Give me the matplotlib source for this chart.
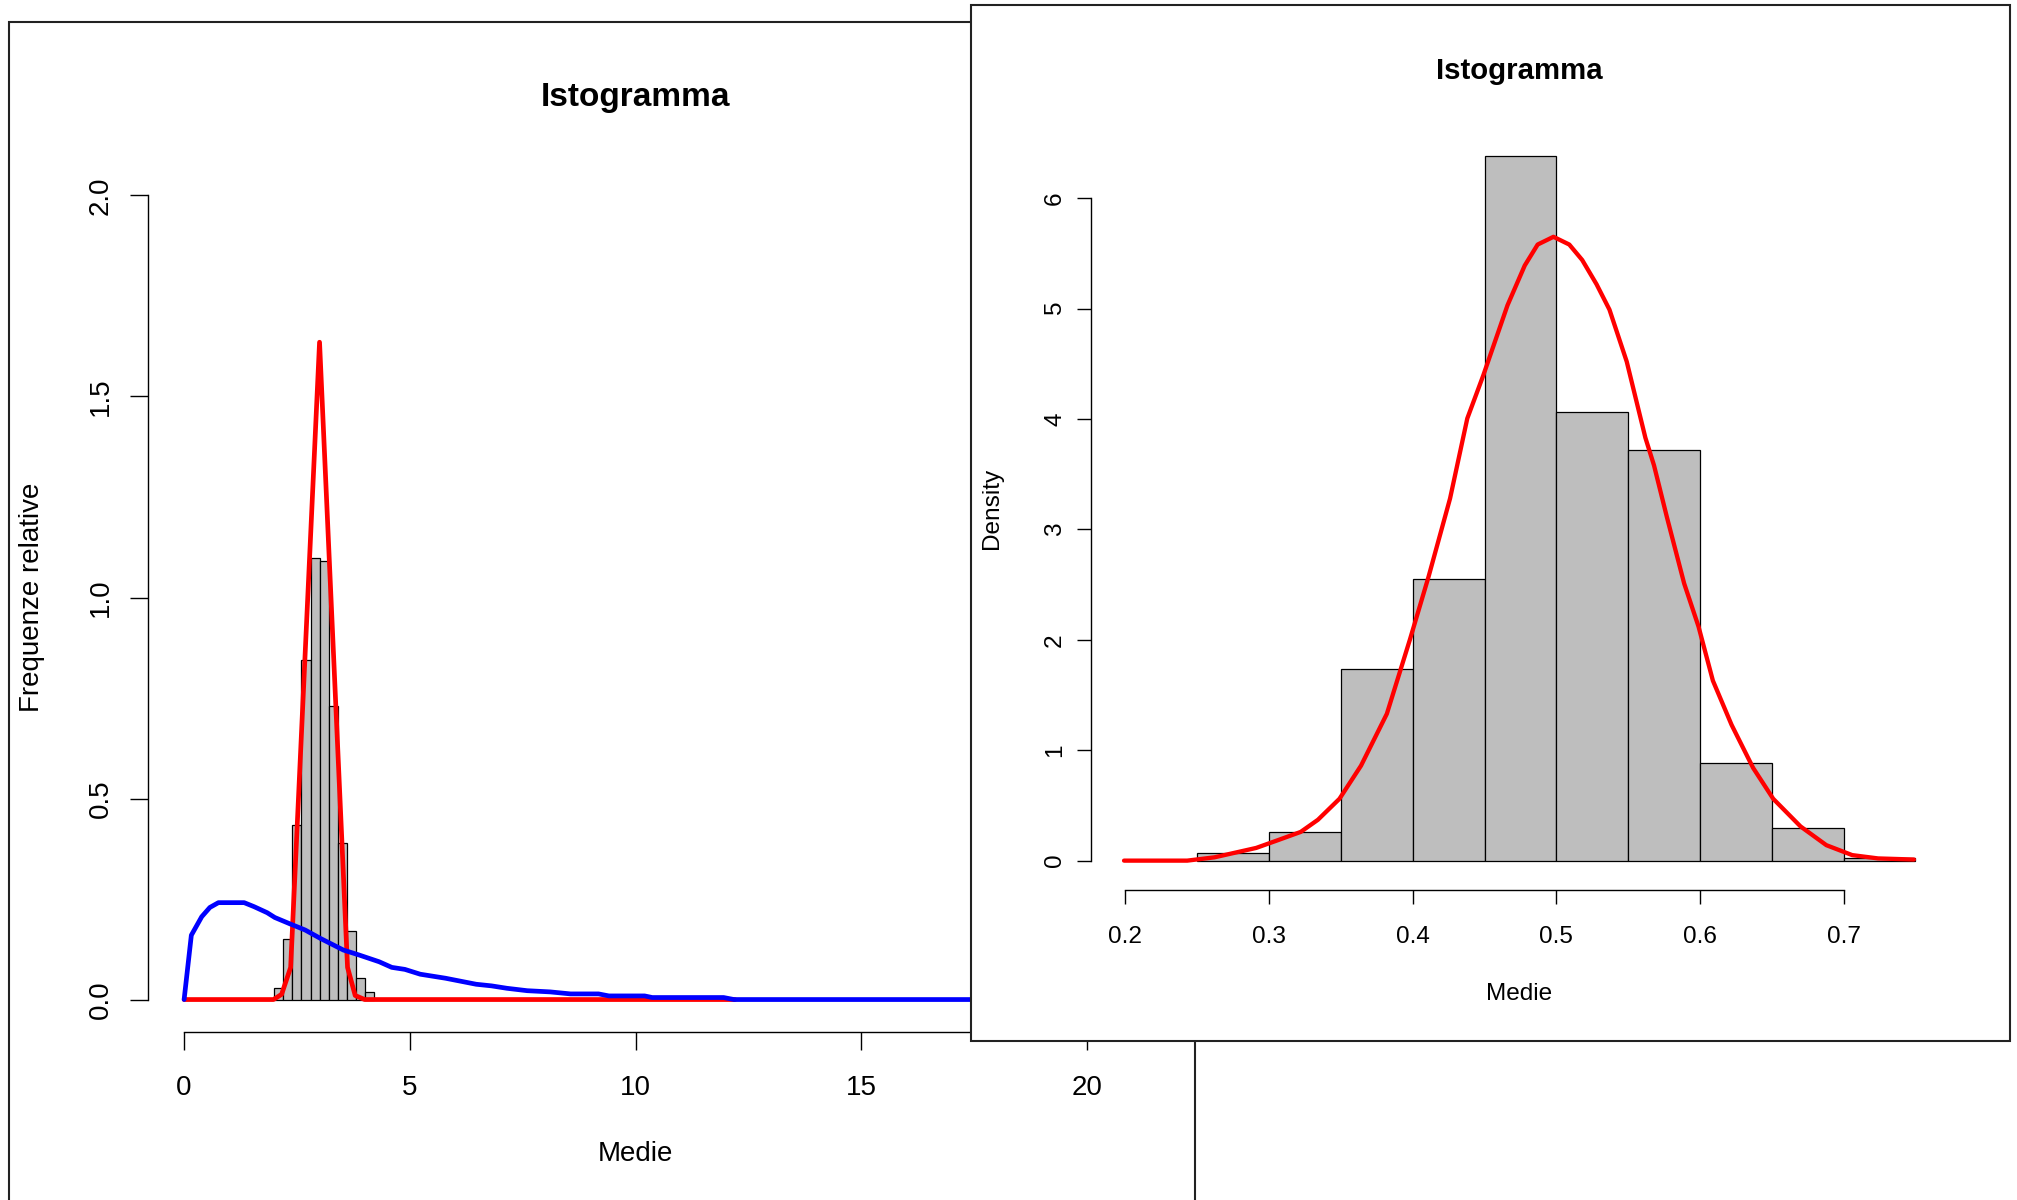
import numpy as np
import matplotlib
matplotlib.use("Agg")
import matplotlib.pyplot as plt
from matplotlib.patches import Rectangle

plt.rcParams['font.family'] = ['Liberation Sans', 'DejaVu Sans']

# left window: histogram of sample means, normal fit (red) and skewed density (blue)
left_bins = [2.0, 2.2, 2.4, 2.6, 2.8, 3.0, 3.2, 3.4, 3.6, 3.8, 4.0, 4.2]
left_dens = [0.029, 0.150, 0.434, 0.844, 1.099, 1.090, 0.731, 0.390, 0.171, 0.053, 0.019]

red1_x = [0, 1.98, 2.16, 2.36, 3.0, 3.62, 3.79, 4.0, 12.2]
red1_y = [0, 0, 0.013, 0.080, 1.635, 0.080, 0.010, 0, 0]

blue_x = [0, 0.16, 0.39, 0.57, 0.76, 1.33, 1.55, 1.84, 2.01, 2.35, 2.68, 3.02, 3.53,
          3.87, 4.32, 4.60, 4.89, 5.23, 5.79, 6.47, 6.81, 7.15, 7.60, 8.11, 8.56,
          9.18, 9.41, 10.2, 10.37, 11.95, 12.18, 20]
blue_y = [0, 0.160, 0.206, 0.229, 0.241, 0.241, 0.231, 0.216, 0.204, 0.188, 0.173,
          0.152, 0.123, 0.111, 0.094, 0.080, 0.075, 0.063, 0.053, 0.038, 0.034,
          0.028, 0.022, 0.019, 0.014, 0.014, 0.009, 0.009, 0.005, 0.005, 0.0, 0.0]

left_xticks = [0, 5, 10, 15, 20]
left_yticks = [0.0, 0.5, 1.0, 1.5, 2.0]
left_ylabels = ['0.0', '0.5', '1.0', '1.5', '2.0']

# right window: histogram with density curve
right_bins = [0.25, 0.30, 0.35, 0.40, 0.45, 0.50, 0.55, 0.60, 0.65, 0.70, 0.75]
right_dens = [0.07, 0.256, 1.736, 2.552, 6.385, 4.067, 3.717, 0.886, 0.292, 0.02]

red2_x = [0.199, 0.243, 0.262, 0.291, 0.305, 0.322, 0.334, 0.349, 0.364, 0.382, 0.398,
          0.411, 0.426, 0.438, 0.449, 0.466, 0.478, 0.487, 0.498, 0.509, 0.518, 0.528,
          0.537, 0.549, 0.562, 0.568, 0.577, 0.589, 0.599, 0.609, 0.622, 0.637, 0.651,
          0.670, 0.688, 0.706, 0.724, 0.749]
red2_y = [0, 0, 0.03, 0.115, 0.18, 0.26, 0.37, 0.56, 0.86, 1.33, 2.00, 2.57, 3.28,
          4.005, 4.39, 5.03, 5.39, 5.58, 5.65, 5.58, 5.44, 5.22, 4.99, 4.52, 3.83,
          3.58, 3.11, 2.51, 2.12, 1.63, 1.23, 0.84, 0.56, 0.31, 0.14, 0.05, 0.02, 0.01]

right_xticks = [0.2, 0.3, 0.4, 0.5, 0.6, 0.7]
right_yticks = [0, 1, 2, 3, 4, 5, 6]

W, H = 2017, 1200
fig = plt.figure(figsize=(W / 100, H / 100), dpi=100)


def box(x0, y0, x1, y1):
    # pixel box (top-left origin) -> figure fractions
    return [x0 / W, 1 - y1 / H, (x1 - x0) / W, (y1 - y0) / H]


def r_style(ax, xb, yb, ticklen, fs):
    ax.spines['top'].set_visible(False)
    ax.spines['right'].set_visible(False)
    ax.spines['left'].set_bounds(*yb)
    ax.spines['bottom'].set_bounds(*xb)
    for s in ('left', 'bottom'):
        ax.spines[s].set_linewidth(1.0)
    ax.tick_params(direction='out', length=ticklen, width=1.0, labelsize=fs)


# window frames
fig.add_artist(Rectangle((9 / W, -0.1), (1195 - 9) / W, 1.1 - 22 / H,
                         transform=fig.transFigure, facecolor='none',
                         edgecolor='#222222', lw=1.5, zorder=-1))

# ---- left plot
ax1 = fig.add_axes(box(148, 163.3, 1123.1, 1031.7), zorder=0)
ax1.set_facecolor('none')
ax1.bar(left_bins[:-1], left_dens, width=np.diff(left_bins), align='edge',
        color='#bebebe', edgecolor='black', linewidth=0.9)
ax1.plot(red1_x, red1_y, color='red', lw=3.4, solid_capstyle='round', solid_joinstyle='round')
ax1.plot(blue_x, blue_y, color='blue', lw=3.4, solid_capstyle='round', solid_joinstyle='round')
ax1.set_xlim(-0.8, 20.8)
ax1.set_ylim(-0.08, 2.08)
r_style(ax1, (0, 20), (0, 2), 13, 20)
ax1.set_xticks(left_xticks)
ax1.set_yticks(left_yticks, left_ylabels, rotation=90, va='center')
ax1.tick_params(axis='x', pad=18)
ax1.tick_params(axis='y', pad=11.5)
ax1.set_xlabel('Medie', fontsize=20, va='center')
ax1.xaxis.set_label_coords(0.5, -0.141)
ax1.set_ylabel('Frequenze relative', fontsize=20, va='center')
ax1.yaxis.set_label_coords(-0.119, 0.5)
ax1.text(0.5, 1.0755, 'Istogramma', transform=ax1.transAxes, ha='center', va='center',
         fontsize=24, fontweight='bold')

# ---- right window covering the left one
fig.add_artist(Rectangle((971 / W, 1 - 1041 / H), (2010 - 971) / W, (1041 - 5) / H,
                         transform=fig.transFigure, facecolor='white',
                         edgecolor='#222222', lw=1.5, zorder=1))

ax2 = fig.add_axes(box(1091, 127.5, 1947, 890), zorder=2)
ax2.set_facecolor('none')
ax2.bar(right_bins[:-1], right_dens, width=np.diff(right_bins), align='edge',
        color='#bebebe', edgecolor='black', linewidth=0.9)
ax2.plot(red2_x, red2_y, color='red', lw=3.1, solid_capstyle='round', solid_joinstyle='round')
ax2.set_xlim(0.176, 0.772)
ax2.set_ylim(-0.266, 6.64)
r_style(ax2, (0.2, 0.7), (0, 6), 10, 17.6)
ax2.set_xticks(right_xticks, [str(v) for v in right_xticks])
ax2.set_yticks(right_yticks, [str(v) for v in right_yticks], rotation=90, va='center')
ax2.tick_params(axis='x', pad=16)
ax2.tick_params(axis='y', pad=8)
ax2.set_xlabel('Medie', fontsize=17.6, va='center')
ax2.xaxis.set_label_coords(0.5, -0.1364)
ax2.set_ylabel('Density', fontsize=17.6, va='center')
ax2.yaxis.set_label_coords(-0.1157, 0.5)
ax2.text(0.5, 1.074, 'Istogramma', transform=ax2.transAxes, ha='center', va='center',
         fontsize=21.2, fontweight='bold')

fig.savefig('out.png', dpi=100)
